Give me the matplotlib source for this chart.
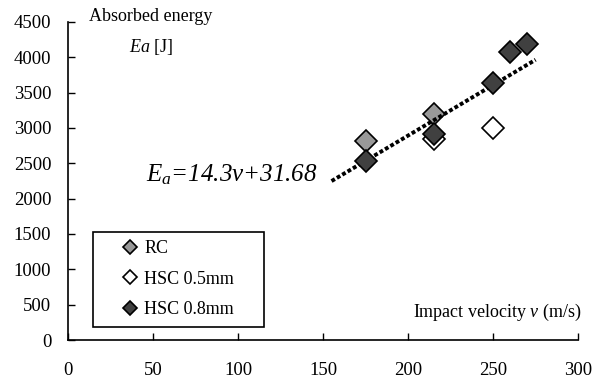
import numpy as np
import matplotlib.pyplot as plt
from matplotlib.patches import Rectangle

plt.rcParams['font.family'] = ['Liberation Serif', 'DejaVu Serif']
plt.rcParams['mathtext.fontset'] = 'custom'
plt.rcParams['mathtext.it'] = 'Liberation Serif:italic'
plt.rcParams['mathtext.rm'] = 'Liberation Serif'

# data
rc_v = [175, 215]
rc_e = [2820, 3200]
hsc05_v = [215, 250]
hsc05_e = [2850, 3000]
hsc08_v = [175, 215, 250, 260, 270]
hsc08_e = [2530, 2920, 3640, 4080, 4180]

fit_slope = 14.3
fit_icpt = 31.68
fit_range = [155, 275]

x_ticks = np.arange(0, 301, 50)
y_ticks = np.arange(0, 4501, 500)

fig = plt.figure(figsize=(5.96, 3.81), dpi=100)
ax = fig.add_axes([0.114, 0.1076, 0.856, 0.835])

fv = np.array(fit_range)
ax.plot(fv, fit_slope * fv + fit_icpt, color='black', lw=2.8,
        linestyle=(0, (1, 0.6)), zorder=3)

ms = 11.5
ax.plot(rc_v, rc_e, 'D', ms=ms, mfc='#999999', mec='black', mew=1.2,
        label='RC', zorder=2)
ax.plot(hsc05_v, hsc05_e, 'D', ms=ms, mfc='white', mec='black', mew=1.2,
        label='HSC 0.5mm', zorder=2)
ax.plot(hsc08_v, hsc08_e, 'D', ms=ms, mfc='#404040', mec='black', mew=1.2,
        label='HSC 0.8mm', zorder=4)

ax.set_xlim(0, 300)
ax.set_ylim(0, 4500)
ax.set_xticks(x_ticks)
ax.set_yticks(y_ticks)
ax.tick_params(direction='in', length=5, width=1, labelsize=13.5)
ax.tick_params(axis='x', pad=16)
ax.tick_params(axis='y', pad=12)
for s in ['top', 'right']:
    ax.spines[s].set_visible(False)
for s in ['left', 'bottom']:
    ax.spines[s].set_linewidth(1.2)

ax.text(0.163, 1.016, 'Absorbed energy', transform=ax.transAxes,
        ha='center', va='center', fontsize=13)
ax.text(0.163, 0.921, r'$Ea$ [J]', transform=ax.transAxes,
        ha='center', va='center', fontsize=13)
ax.text(0.841, 0.088, r'Impact velocity $v$ (m/s)', transform=ax.transAxes,
        ha='center', va='center', fontsize=13)
ax.text(0.49, 0.519, r'$E_a$=14.3$v$+31.68', transform=ax.transAxes,
        ha='right', va='center', fontsize=18, style='italic')

# legend box drawn separately so it can be wider than its contents
ax.add_patch(Rectangle((0.049, 0.041), 0.335, 0.299, transform=ax.transAxes,
                       facecolor='white', edgecolor='black', lw=1.2,
                       zorder=5))
leg = ax.legend(loc='upper left', bbox_to_anchor=(0.049, 0.34),
                borderaxespad=0, frameon=False,
                fontsize=13, markerscale=0.6, handlelength=3.2,
                handletextpad=-0.8, labelspacing=0.75, borderpad=0.45)
leg.set_zorder(6)

fig.savefig('out.png', dpi=100)
